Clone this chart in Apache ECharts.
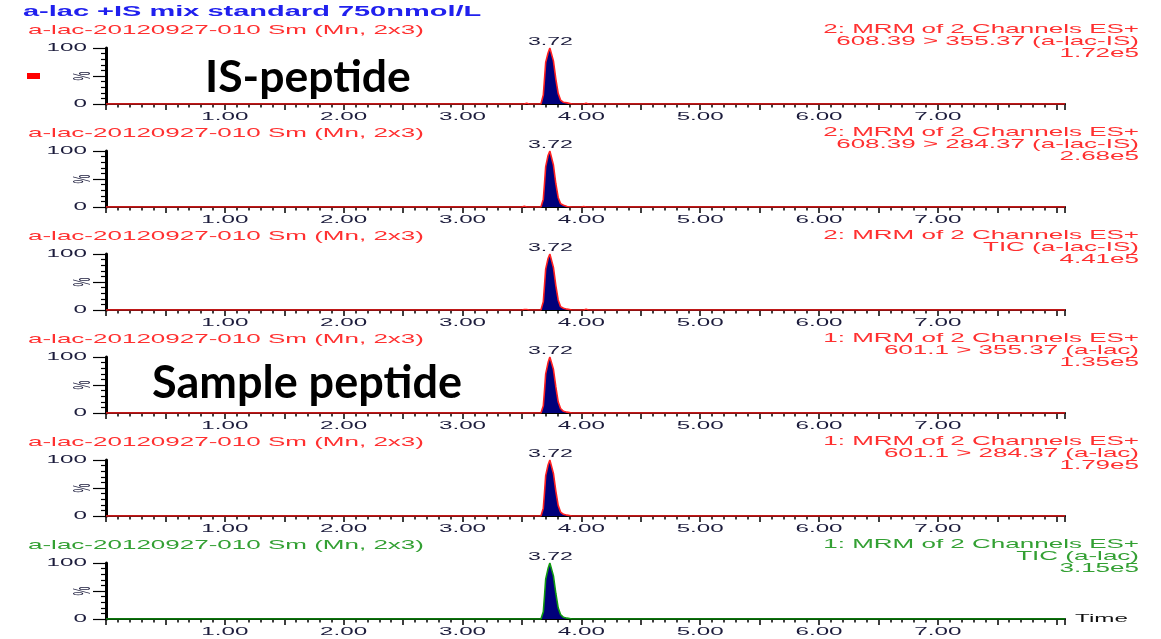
<!DOCTYPE html>
<html><head><meta charset="utf-8">
<script src="https://cdn.jsdelivr.net/npm/echarts@6/dist/echarts.min.js"></script>
<style>html,body{margin:0;padding:0;background:#fff}#c{width:1161px;height:639px}</style>
</head><body><div id="c"></div>
<script>
// ---------- data ----------
const chartTitle = 'a-lac +IS mix standard 750nmol/L';
const sampleNames = [
  'a-lac-20120927-010 Sm (Mn, 2x3)', 'a-lac-20120927-010 Sm (Mn, 2x3)', 'a-lac-20120927-010 Sm (Mn, 2x3)',
  'a-lac-20120927-010 Sm (Mn, 2x3)', 'a-lac-20120927-010 Sm (Mn, 2x3)', 'a-lac-20120927-010 Sm (Mn, 2x3)'
];
const functionLines = [
  '2: MRM of 2 Channels ES+', '2: MRM of 2 Channels ES+', '2: MRM of 2 Channels ES+',
  '1: MRM of 2 Channels ES+', '1: MRM of 2 Channels ES+', '1: MRM of 2 Channels ES+'
];
const channelLines = [
  '608.39 > 355.37 (a-lac-IS)', '608.39 > 284.37 (a-lac-IS)', 'TIC (a-lac-IS)',
  '601.1 > 355.37 (a-lac)', '601.1 > 284.37 (a-lac)', 'TIC (a-lac)'
];
const intensityScales = ['1.72e5', '2.68e5', '4.41e5', '1.35e5', '1.79e5', '3.15e5'];
const peakLabels = ['3.72', '3.72', '3.72', '3.72', '3.72', '3.72'];
const peakApexTime = [3.74, 3.74, 3.74, 3.74, 3.74, 3.74];

const times = [0, 3.50, 3.52, 3.54, 3.56, 3.66, 3.67, 3.68, 3.69, 3.70, 3.72, 3.735, 3.745,
               3.765, 3.785, 3.805, 3.825, 3.85, 3.88, 3.92, 4.00, 4.02, 4.04, 4.06, 8.07];
const intensity1 = [0,0,0,1.5,0,0,3,16,45,74,91,100,100,77,45,19,7,3,2,0,0,0,1.5,0,0];
const intensity2 = [0,0,1.5,0,0,0,2,14,42,72,92,100,98,75,42,17,6,3,1,0,0,1,0,0,0];
const intensity3 = [0,0,1,1,0,0,2,15,44,73,92,100,99,76,44,18,6,3,1.5,0,0,0,1.5,0,0];
const intensity4 = [0,0,0,0,0,0,2,13,40,70,90,100,99,78,47,20,8,3,1.5,0,0,0,0,0,0];
const intensity5 = [0,0,0,0,0,0,2,14,42,72,91,100,98,76,45,19,7,3,1.5,0,0,0,0,0,0];
const intensity6 = [0,0,0,0,0,0,2,13,41,71,90,100,98,77,46,20,8,3,1.5,0,0,0,0,0,0];
const intensities = [intensity1, intensity2, intensity3, intensity4, intensity5, intensity6];

const xTickValues = [1, 2, 3, 4, 5, 6, 7];
const xTickLabels = ['1.00', '2.00', '3.00', '4.00', '5.00', '6.00', '7.00'];
const yTickValues = [0, 100];
const yTickLabels = ['0', '100'];
const yAxisName = '%';
const xAxisName = 'Time';
const overlayLabels = ['IS-peptide', 'Sample peptide'];

// ---------- styles ----------
const RED = '#ff3030', GREEN = '#33a033';
const headerColors = [RED, RED, RED, RED, RED, GREEN];
const traceColors = ['#ff2020', '#ff2020', '#ff2020', '#ff2020', '#ff2020', '#109a10'];
const FILL = '#00007a';
const LABEL = '#1c1c3c';
const X_MIN = 0, X_MAX = 8.07;
const GRID_LEFT = 106, GRID_RIGHT = 96, TOP0 = 48, STEP = 103, H = 56;

const grids = [], xAxes = [], yAxes = [], series = [];
for (let k = 0; k < 6; k++) {
  grids.push({ left: GRID_LEFT, right: GRID_RIGHT, top: TOP0 + k * STEP, height: H });
  xAxes.push({
    gridIndex: k, type: 'value', min: X_MIN, max: X_MAX, interval: 0.5, offset: 1.5,
    axisLine: { show: true, lineStyle: { color: '#000', width: 2 } },
    axisTick: { show: true, length: 6, lineStyle: { color: '#000', width: 1.5 } },
    minorTick: { show: true, splitNumber: 5, length: 3.5, lineStyle: { color: '#000', width: 1.5 } },
    axisLabel: { show: false }, splitLine: { show: false }
  });
  yAxes.push({
    gridIndex: k, type: 'value', min: 0, max: 100, interval: 50, offset: 1.5,
    axisLine: { show: true, lineStyle: { color: '#000', width: 3 } },
    axisTick: { show: true, length: 13, lineStyle: { color: '#000', width: 1.2 } },
    minorTick: { show: true, splitNumber: 5, length: 5, lineStyle: { color: '#000', width: 1.2 } },
    axisLabel: { show: false }, splitLine: { show: false }
  });
  series.push({
    type: 'line', xAxisIndex: k, yAxisIndex: k, symbol: 'none', z: 3,
    data: times.map((t, i) => [t, intensities[k][i]]),
    lineStyle: { color: traceColors[k], width: 1.6 },
    areaStyle: { color: FILL, opacity: 1 }
  });
}

const chart = echarts.init(document.getElementById('c'), null, { renderer: 'canvas' });
chart.setOption({
  animation: false, backgroundColor: '#fff',
  grid: grids, xAxis: xAxes, yAxis: yAxes, series: series
});

// ---------- texts (stretched like the original capture) ----------
const FONT = 'Liberation Sans, Arial, sans-serif';
function txt(x, y, text, opt) {
  return {
    type: 'text', x: x, y: y, scaleX: opt.sx || 1, z: 10,
    style: {
      text: text, fill: opt.color, align: opt.align || 'left', verticalAlign: 'middle',
      font: (opt.weight || 'normal') + ' ' + opt.size + 'px ' + (opt.family || FONT)
    }
  };
}
const g = [];
g.push(txt(23, 12, chartTitle, { color: '#2020ee', size: 14, weight: 'bold', sx: 2.07 }));
for (let k = 0; k < 6; k++) {
  const top = chart.convertToPixel({ gridIndex: k }, [X_MIN, 100]);
  const mid = chart.convertToPixel({ gridIndex: k }, [X_MIN, 50]);
  const dy = top[1];
  g.push(txt(28, dy - 18, sampleNames[k], { color: headerColors[k], size: 13, sx: 2.0 }));
  g.push(txt(1139, dy - 19, functionLines[k], { color: headerColors[k], size: 13, sx: 2.0, align: 'right' }));
  g.push(txt(1139, dy - 7, channelLines[k], { color: headerColors[k], size: 13, sx: 2.0, align: 'right' }));
  g.push(txt(1139, dy + 5, intensityScales[k], { color: headerColors[k], size: 13, sx: 2.0, align: 'right' }));
  xTickValues.forEach((v, i) => {
    const p = chart.convertToPixel({ gridIndex: k }, [v, 0]);
    g.push(txt(p[0], p[1] + 13, xTickLabels[i], { color: LABEL, size: 11, sx: 2.2, align: 'center' }));
  });
  yTickValues.forEach((v, i) => {
    const p = chart.convertToPixel({ gridIndex: k }, [X_MIN, v]);
    g.push(txt(87, p[1], yTickLabels[i], { color: LABEL, size: 11, sx: 2.2, align: 'right' }));
  });
  // rotated "%" unit, then stretched horizontally
  g.push({
    type: 'group', x: 84, y: mid[1], scaleX: 2.3, z: 10,
    children: [{
      type: 'text', rotation: Math.PI / 2, z: 10,
      style: { text: yAxisName, fill: LABEL, align: 'center', verticalAlign: 'middle', font: 'normal 10px ' + FONT }
    }]
  });
  const pk = chart.convertToPixel({ gridIndex: k }, [peakApexTime[k], 100]);
  g.push(txt(pk[0], pk[1] - 6, peakLabels[k], { color: LABEL, size: 11, sx: 2.1, align: 'center' }));
}
const last = chart.convertToPixel({ gridIndex: 5 }, [X_MAX, 0]);
g.push(txt(last[0] + 10, last[1], xAxisName, { color: '#111', size: 11, sx: 2.2 }));
// overlay annotations
g.push({ type: 'rect', z: 10, shape: { x: 27, y: 73, width: 13, height: 6 }, style: { fill: '#ff0000' } });
g.push(txt(205, 78, overlayLabels[0], { color: '#000', size: 44.5, weight: 'bold', family: 'Lato, sans-serif' }));
g.push(txt(152, 383, overlayLabels[1], { color: '#000', size: 45, weight: 'bold', family: 'Lato, sans-serif' }));
chart.setOption({ graphic: g });
</script></body></html>
